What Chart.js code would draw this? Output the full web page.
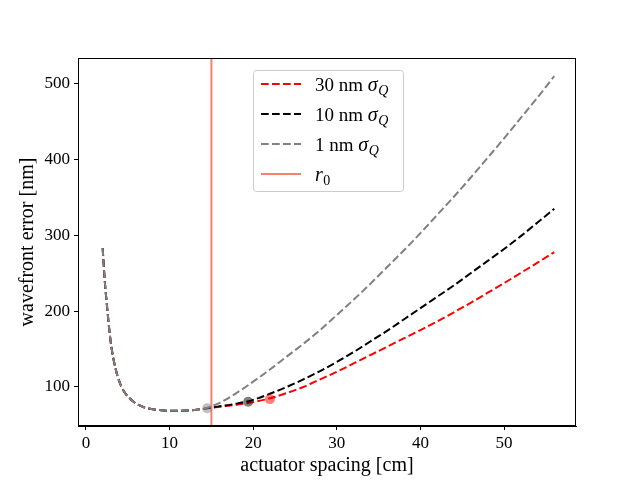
<!DOCTYPE html>
<html>
<head>
<meta charset="utf-8">
<script src="https://cdn.jsdelivr.net/npm/chart.js@4.4.1/dist/chart.umd.min.js"></script>
<style>
  html, body { margin: 0; padding: 0; background: #fff; }
  #wrap { width: 640px; height: 480px; }
</style>
</head>
<body>
<div id="wrap"><canvas id="chart" width="640" height="480"></canvas></div>
<script>
// actuator spacing [cm]
const spacing = [2, 2.25, 2.5, 2.75, 3, 3.5, 4, 4.5, 5, 6, 7, 8, 9, 10, 11, 12, 13, 14,
  15, 16, 18, 20, 22, 24, 26, 28, 30, 32, 34, 36, 38, 40, 42, 44, 46, 48, 50, 52, 54, 56];

// wavefront error [nm] for each quantisation noise level
const err30 = [283, 240, 209, 180, 156, 126, 107, 95, 87.5, 78, 73, 70.5, 69.2, 68.6, 68.5, 68.8, 69.7, 71,
  72.6, 74, 76.5, 80, 85, 92, 100, 110, 120, 131, 142, 153, 164, 175, 186.5, 198.5, 211, 224, 237, 250.5, 264, 278];
const err10 = [283, 240, 209, 180, 156, 126, 107, 95, 87.5, 78, 73, 70.5, 69.2, 68.6, 68.5, 68.8, 69.7, 71,
  72.8, 74.5, 78, 83, 91, 100, 110, 121, 133, 146, 160, 174, 189, 204, 219, 234, 250, 266, 282, 299, 317, 335];
const err1 = [283, 240, 209, 180, 156, 126, 107, 95, 87.5, 78, 73, 70.5, 69.2, 68.6, 68.5, 68.8, 69.7, 71,
  74.5, 79, 92, 107, 123, 140, 157, 175, 195, 215, 236, 258, 280, 303, 327, 351, 376, 402, 428, 455, 482, 510];

// optimum spacing per curve (30, 10, 1 nm)
const optSpacing = [22.0, 19.4, 14.5];
const optError = [84, 80.5, 72];

const r0 = 15;

const xTicks = [0, 10, 20, 30, 40, 50];
const yTicks = [100, 200, 300, 400, 500];
const xRange = [-0.95, 58.6];
const yRange = [48.5, 534];

const FONT = "'Liberation Serif', 'DejaVu Serif', serif";

function pts(xs, ys) {
  return xs.map((x, i) => ({ x: x, y: ys[i] }));
}

const legendItems = [
  { main: '30 nm ', sym: 'σ', sub: 'Q', color: '#ff0000', dash: true },
  { main: '10 nm ', sym: 'σ', sub: 'Q', color: '#000000', dash: true },
  { main: '1 nm ', sym: 'σ', sub: 'Q', color: '#808080', dash: true },
  { main: '', sym: 'r', sub: '0', color: '#fa8072', dash: false },
];

const frameAndLegend = {
  id: 'frameAndLegend',
  afterDraw(chart) {
    const ctx = chart.ctx;
    const a = chart.chartArea;
    ctx.save();
    ctx.strokeStyle = '#000';
    ctx.lineWidth = 1;
    ctx.strokeRect(a.left + 0.5, a.top + 0.5, a.right - a.left - 1, a.bottom - a.top - 1);

    // legend box
    const bx = 253, by = 70, bw = 150, bh = 121;
    ctx.fillStyle = 'rgba(255,255,255,0.8)';
    ctx.strokeStyle = '#cccccc';
    ctx.beginPath();
    ctx.roundRect(bx + 0.5, by + 0.5, bw, bh, 3);
    ctx.fill();
    ctx.stroke();

    legendItems.forEach((item, i) => {
      const y = 84 + i * 30;
      ctx.strokeStyle = item.color;
      ctx.lineWidth = 2;
      ctx.setLineDash(item.dash ? [7.7, 3.3] : []);
      ctx.beginPath();
      ctx.moveTo(261, y);
      ctx.lineTo(301, y);
      ctx.stroke();
      ctx.setLineDash([]);

      ctx.fillStyle = '#000';
      ctx.textBaseline = 'alphabetic';
      let x = 315;
      const base = y + 7;
      ctx.font = '19px ' + FONT;
      ctx.fillText(item.main, x, base);
      x += ctx.measureText(item.main).width;
      ctx.font = 'italic 20px ' + FONT;
      ctx.fillText(item.sym, x, base);
      x += ctx.measureText(item.sym).width;
      ctx.font = (item.sub === 'Q' ? 'italic ' : '') + '14px ' + FONT;
      ctx.fillText(item.sub, x + 0.5, base + 4);
    });
    ctx.restore();
  }
};

const config = {
  type: 'line',
  data: {
    datasets: [
      {
        label: 'optimum',
        type: 'scatter',
        data: pts(optSpacing, optError),
        pointRadius: 5,
        pointBorderWidth: 0,
        pointBackgroundColor: ['rgba(255,0,0,0.5)', 'rgba(0,0,0,0.5)', 'rgba(128,128,128,0.5)'],
        order: 0,
      },
      {
        label: '1 nm',
        data: pts(spacing, err1),
        borderColor: '#808080',
        borderWidth: 2,
        borderDash: [7.7, 3.3],
        pointRadius: 0,
        cubicInterpolationMode: 'monotone',
        order: 1,
      },
      {
        label: '10 nm',
        data: pts(spacing, err10),
        borderColor: '#000000',
        borderWidth: 2,
        borderDash: [7.7, 3.3],
        pointRadius: 0,
        cubicInterpolationMode: 'monotone',
        order: 2,
      },
      {
        label: '30 nm',
        data: pts(spacing, err30),
        borderColor: '#ff0000',
        borderWidth: 2,
        borderDash: [7.7, 3.3],
        pointRadius: 0,
        cubicInterpolationMode: 'monotone',
        order: 3,
      },
      {
        label: 'r0',
        data: [{ x: r0, y: yRange[0] }, { x: r0, y: yRange[1] }],
        borderColor: '#fa8072',
        borderWidth: 2,
        pointRadius: 0,
        order: 4,
      },
    ],
  },
  options: {
    responsive: false,
    animation: false,
    layout: { padding: { left: 0, right: 64, top: 58, bottom: 0 } },
    plugins: {
      legend: { display: false },
      tooltip: { enabled: false },
    },
    scales: {
      x: {
        type: 'linear',
        min: xRange[0],
        max: xRange[1],
        afterBuildTicks: (scale) => { scale.ticks = xTicks.map((v) => ({ value: v })); },
        afterFit: (scale) => { scale.height = 54; },
        grid: { display: true, drawOnChartArea: false, drawTicks: true, tickLength: 4, color: '#000' },
        border: { display: true, color: '#000' },
        ticks: { color: '#000', padding: 3, font: { family: FONT, size: 17 } },
        title: {
          display: true,
          text: 'actuator spacing [cm]',
          color: '#000',
          padding: { top: 0, bottom: 2 },
          font: { family: FONT, size: 20 },
        },
      },
      y: {
        type: 'linear',
        min: yRange[0],
        max: yRange[1],
        afterBuildTicks: (scale) => { scale.ticks = yTicks.map((v) => ({ value: v })); },
        afterFit: (scale) => { scale.width = 78; },
        grid: { display: true, drawOnChartArea: false, drawTicks: true, tickLength: 4, color: '#000' },
        border: { display: true, color: '#000' },
        ticks: { color: '#000', padding: 4, font: { family: FONT, size: 17 } },
        title: {
          display: true,
          text: 'wavefront error [nm]',
          color: '#000',
          padding: { top: 16, bottom: 0 },
          font: { family: FONT, size: 20 },
        },
      },
    },
  },
  plugins: [frameAndLegend],
};

new Chart(document.getElementById('chart'), config);
</script>
</body>
</html>
